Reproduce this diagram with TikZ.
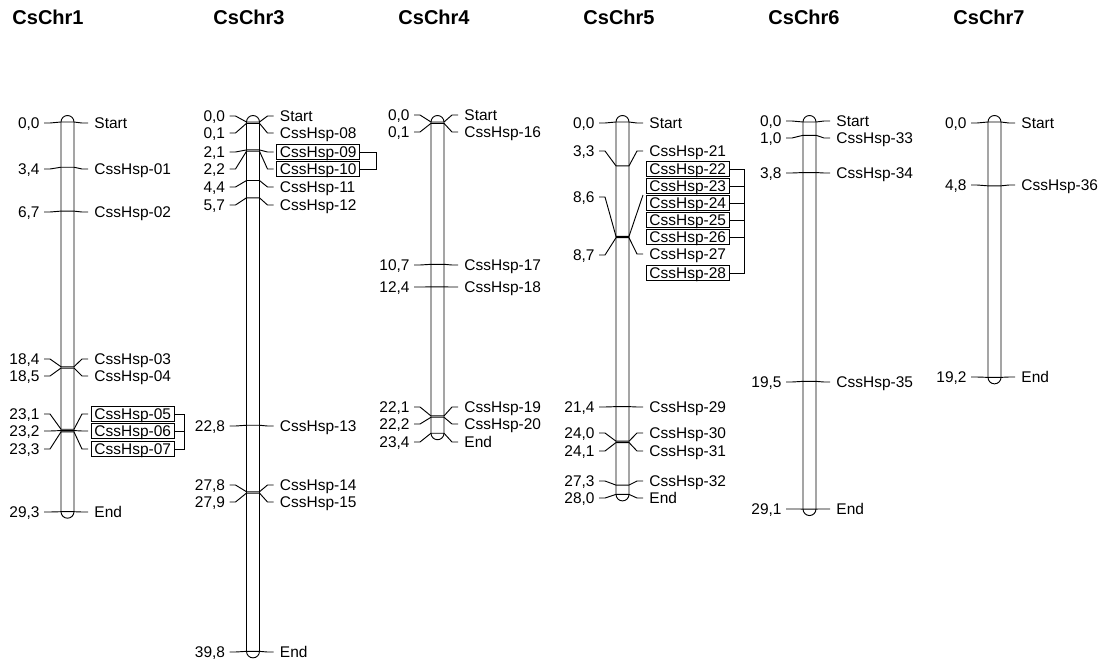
\documentclass[tikz,border=0pt]{standalone}
\usepackage{fontspec}
\setmainfont{Liberation Sans}
\usetikzlibrary{calc,fit}

\begin{document}
\begin{tikzpicture}[
    x=0.75pt, y=-0.75pt,
    line width=0.7pt,
    every node/.style={inner sep=0pt, font=\fontsize{11.6}{13}\selectfont, text height=8.3pt, text depth=0pt},
    title/.style={anchor=west, font=\fontsize{15}{18}\selectfont\bfseries, text height=10.7pt},
    num/.style={anchor=east},
    lab/.style={anchor=west},
    chrom/.style={rounded corners=4.875pt},
    hbox/.style={draw, inner xsep=2.2pt, inner ysep=1.2pt},
    /pgf/number format/.cd, fixed, fixed zerofill, precision=1, use comma, assume math mode=true,
]
    \useasboundingbox (0,0) rectangle (1110,668);

    % Titles
    \node[title] (t1) at (12,17) {CsChr1};
    \node[title] (t3) at (213,17) {CsChr3};
    \node[title] (t4) at (398,17) {CsChr4};
    \node[title] (t5) at (583,17) {CsChr5};
    \node[title] (t6) at (768,17) {CsChr6};
    \node[title] (t7) at (953,17) {CsChr7};

    % CsChr1
    \def\cx{67.5}
    \draw[chrom] (\cx-6.5,115.5) rectangle (\cx+6.5,{122+13.3*29.3+6.5});
    \foreach \cm/\ly/\txt [count=\i] in {0.0/123/Start, 3.4/169/CssHsp-01, 6.7/212/CssHsp-02,
        18.4/359/CssHsp-03, 18.5/376/CssHsp-04, 23.1/414/CssHsp-05, 23.2/431/CssHsp-06,
        23.3/449/CssHsp-07, 29.3/512/End}{
        \coordinate (c1l\i) at (\cx-6.5,{122+13.3*\cm});
        \coordinate (c1r\i) at (\cx+6.5,{122+13.3*\cm});
        \node[num] (c1n\i) at (\cx-27.5,\ly) {\pgfmathprintnumber{\cm}};
        \node[lab] (c1m\i) at (\cx+26.5,\ly) {\txt};
        \draw (c1n\i.east) ++(4,0) -- ++(6,0) -- (c1l\i) -- (c1r\i) -- ($(c1m\i.west)+(-12,0)$) -- ++(6,0);
    }
    \foreach \i in {6,7,8}
        \node[hbox, fit=(c1m\i)] (c1x\i) {};
    \coordinate (c1k) at (184,0);
    \draw (c1x6.east) -- (c1x6.east -| c1k) -- (c1x8.east -| c1k) -- (c1x8.east);
    \draw (c1x7.east) -- (c1x7.east -| c1k);

    % CsChr3
    \def\cx{253}
    \draw[chrom] (\cx-6.5,115.5) rectangle (\cx+6.5,{122+13.3*39.8+6.5});
    \foreach \cm/\ly/\txt [count=\i] in {0.0/116/Start, 0.1/133/CssHsp-08, 2.1/152/CssHsp-09,
        2.2/169/CssHsp-10, 4.4/187/CssHsp-11, 5.7/205/CssHsp-12, 22.8/426/CssHsp-13,
        27.8/485/CssHsp-14, 27.9/502/CssHsp-15, 39.8/652/End}{
        \coordinate (c3l\i) at (\cx-6.5,{122+13.3*\cm});
        \coordinate (c3r\i) at (\cx+6.5,{122+13.3*\cm});
        \node[num] (c3n\i) at (\cx-27.5,\ly) {\pgfmathprintnumber{\cm}};
        \node[lab] (c3m\i) at (\cx+26.5,\ly) {\txt};
        \draw (c3n\i.east) ++(4,0) -- ++(6,0) -- (c3l\i) -- (c3r\i) -- ($(c3m\i.west)+(-12,0)$) -- ++(6,0);
    }
    \foreach \i in {3,4}
        \node[hbox, fit=(c3m\i)] (c3x\i) {};
    \coordinate (c3k) at (376,0);
    \draw (c3x3.east) -- (c3x3.east -| c3k) -- (c3x4.east -| c3k) -- (c3x4.east);

    % CsChr4
    \def\cx{437.5}
    \draw[chrom] (\cx-6.5,115.5) rectangle (\cx+6.5,{122+13.3*23.4+6.5});
    \foreach \cm/\ly/\txt [count=\i] in {0.0/115/Start, 0.1/132/CssHsp-16, 10.7/265/CssHsp-17,
        12.4/287/CssHsp-18, 22.1/407/CssHsp-19, 22.2/424/CssHsp-20, 23.4/442/End}{
        \coordinate (c4l\i) at (\cx-6.5,{122+13.3*\cm});
        \coordinate (c4r\i) at (\cx+6.5,{122+13.3*\cm});
        \node[num] (c4n\i) at (\cx-27.5,\ly) {\pgfmathprintnumber{\cm}};
        \node[lab] (c4m\i) at (\cx+26.5,\ly) {\txt};
        \draw (c4n\i.east) ++(4,0) -- ++(6,0) -- (c4l\i) -- (c4r\i) -- ($(c4m\i.west)+(-12,0)$) -- ++(6,0);
    }

    % CsChr5
    \def\cx{622.5}
    \draw[chrom] (\cx-6.5,115.5) rectangle (\cx+6.5,{122+13.3*28.0+6.5});
    \foreach \cm/\ly/\txt [count=\i] in {0.0/123/Start, 3.3/151/CssHsp-21, 21.4/407/CssHsp-29,
        24.0/433/CssHsp-30, 24.1/451/CssHsp-31, 27.3/481/CssHsp-32, 28.0/498/End}{
        \coordinate (c5l\i) at (\cx-6.5,{122+13.3*\cm});
        \coordinate (c5r\i) at (\cx+6.5,{122+13.3*\cm});
        \node[num] (c5n\i) at (\cx-27.5,\ly) {\pgfmathprintnumber{\cm}};
        \node[lab] (c5m\i) at (\cx+26.5,\ly) {\txt};
        \draw (c5n\i.east) ++(4,0) -- ++(6,0) -- (c5l\i) -- (c5r\i) -- ($(c5m\i.west)+(-12,0)$) -- ++(6,0);
    }
    % cluster at 8,6 / 8,7
    \foreach \k/\ly in {22/169, 23/186, 24/203, 25/220, 26/237, 27/254, 28/273}
        \node[lab] (c5m\k) at (\cx+26.5,\ly) {CssHsp-\k};
    \foreach \k in {22,23,24,25,26,28}
        \node[hbox, fit=(c5m\k)] (c5x\k) {};
    \coordinate (c5la) at (\cx-6.5,{122+13.3*8.6});
    \coordinate (c5ra) at (\cx+6.5,{122+13.3*8.6});
    \coordinate (c5lb) at (\cx-6.5,{122+13.3*8.7});
    \coordinate (c5rb) at (\cx+6.5,{122+13.3*8.7});
    \node[num] (c5na) at (\cx-27.5,197) {8,6};
    \node[num] (c5nb) at (\cx-27.5,255) {8,7};
    \draw (c5na.east) ++(4,0) -- ++(6,0) -- (c5la) -- (c5ra) -- ($(c5m24.west)+(-6,-8)$);
    \draw (c5nb.east) ++(4,0) -- ++(6,0) -- (c5lb) -- (c5rb) -- ($(c5m27.west)+(-12,0)$) -- ++(6,0);
    \coordinate (c5k) at (744,0);
    \draw (c5x22.east) -- (c5x22.east -| c5k) -- (c5x28.east -| c5k) -- (c5x28.east);
    \foreach \k in {23,24,25,26}
        \draw (c5x\k.east) -- (c5x\k.east -| c5k);

    % CsChr6
    \def\cx{809.5}
    \draw[chrom] (\cx-6.5,115.5) rectangle (\cx+6.5,{122+13.3*29.1+6.5});
    \foreach \cm/\ly/\txt [count=\i] in {0.0/121/Start, 1.0/138/CssHsp-33, 3.8/173/CssHsp-34,
        19.5/382/CssHsp-35, 29.1/509/End}{
        \coordinate (c6l\i) at (\cx-6.5,{122+13.3*\cm});
        \coordinate (c6r\i) at (\cx+6.5,{122+13.3*\cm});
        \node[num] (c6n\i) at (\cx-27.5,\ly) {\pgfmathprintnumber{\cm}};
        \node[lab] (c6m\i) at (\cx+26.5,\ly) {\txt};
        \draw (c6n\i.east) ++(4,0) -- ++(6,0) -- (c6l\i) -- (c6r\i) -- ($(c6m\i.west)+(-12,0)$) -- ++(6,0);
    }

    % CsChr7
    \def\cx{994.5}
    \draw[chrom] (\cx-6.5,115.5) rectangle (\cx+6.5,{122+13.3*19.2+6.5});
    \foreach \cm/\ly/\txt [count=\i] in {0.0/123/Start, 4.8/185/CssHsp-36, 19.2/377/End}{
        \coordinate (c7l\i) at (\cx-6.5,{122+13.3*\cm});
        \coordinate (c7r\i) at (\cx+6.5,{122+13.3*\cm});
        \node[num] (c7n\i) at (\cx-27.5,\ly) {\pgfmathprintnumber{\cm}};
        \node[lab] (c7m\i) at (\cx+26.5,\ly) {\txt};
        \draw (c7n\i.east) ++(4,0) -- ++(6,0) -- (c7l\i) -- (c7r\i) -- ($(c7m\i.west)+(-12,0)$) -- ++(6,0);
    }
\end{tikzpicture}
\end{document}
